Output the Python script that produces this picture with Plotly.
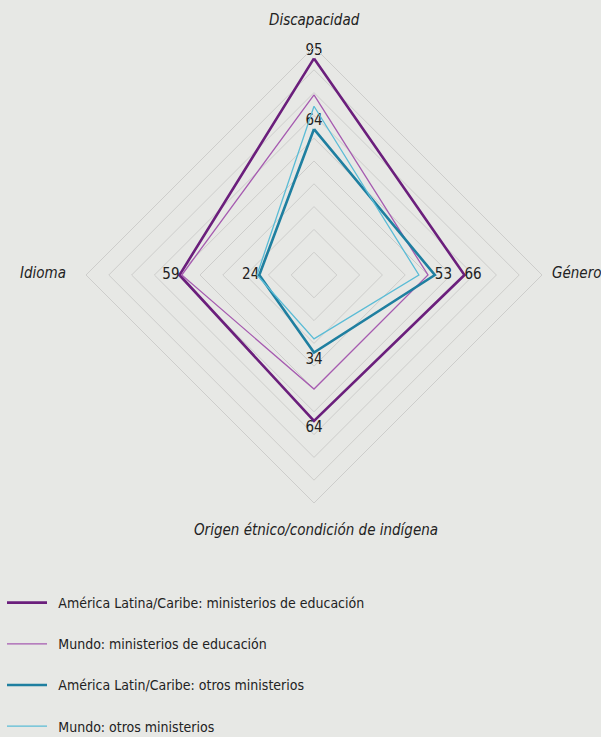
import plotly.graph_objects as go

categories = ["Discapacidad", "Género", "Origen étnico/condición de indígena", "Idioma"]

series_names = [
    "América Latina/Caribe: ministerios de educación",
    "Mundo: ministerios de educación",
    "América Latin/Caribe: otros ministerios",
    "Mundo: otros ministerios",
]
la_edu = [95, 66, 64, 59]
mundo_edu = [79, 50, 50, 58]
la_otros = [64, 53, 34, 24]
mundo_otros = [74, 46, 28, 25]

series_values = [la_edu, mundo_edu, la_otros, mundo_otros]
series_colors = ["#6b1f7c", "#a65bb0", "#1f7fa0", "#5bbcd6"]
series_widths = [2.6, 1.3, 2.6, 1.3]
show_labels = [True, False, True, False]
label_positions = ["top center", "middle right", "bottom center", "middle left"]

BG = "#e7e8e5"
GRID = "#cdcdcb"
FONT = "Liberation Sans Narrow, Arial Narrow, DejaVu Sans Condensed, sans-serif"

fig = go.Figure()
for name, vals, col, w, lab in zip(series_names, series_values, series_colors, series_widths, show_labels):
    r = vals + vals[:1]
    theta = categories + categories[:1]
    fig.add_trace(go.Scatterpolar(
        r=r, theta=theta, name="\u2002" + name,
        mode="lines+text" if lab else "lines",
        line=dict(color=col, width=w),
        text=[str(v) for v in vals] + [""] if lab else None,
        textposition=label_positions + ["top center"],
        textfont=dict(family=FONT, size=15, color="#222222"),
        legendgroup=name,
        cliponaxis=False,
    ))

fig.update_layout(
    width=601, height=737,
    paper_bgcolor=BG, plot_bgcolor=BG,
    margin=dict(l=0, r=0, t=0, b=0, autoexpand=False),
    font=dict(family=FONT, size=14, color="#222222"),
    polar=dict(
        bgcolor=BG,
        domain=dict(x=[86/601, 542/601], y=[1-503/737, 1-47/737]),
        gridshape="linear",
        radialaxis=dict(range=[0, 100], dtick=10, showticklabels=False, ticks="",
                        showline=False, gridcolor=GRID, gridwidth=1),
        angularaxis=dict(rotation=90, direction="clockwise", showticklabels=False,
                         ticks="", showline=True, linecolor=GRID, linewidth=1,
                         showgrid=False),
    ),
    legend=dict(x=2/601, y=1-587/737, xanchor="left", yanchor="top",
                orientation="v", tracegroupgap=20, itemwidth=40,
                font=dict(family=FONT, size=14, color="#222222"),
                bgcolor="rgba(0,0,0,0)"),
    showlegend=True,
)

ann_font = dict(family=FONT, size=15, color="#222222")
annotations = [
    dict(text="<i>Discapacidad</i>", x=314/601, y=1-20/737, xanchor="center", yanchor="middle"),
    dict(text="<i>Género</i>", x=550/601, y=1-273/737, xanchor="left", yanchor="middle"),
    dict(text="<i>Origen étnico/condición de indígena</i>", x=316/601, y=1-530/737, xanchor="center", yanchor="middle"),
    dict(text="<i>Idioma</i>", x=68/601, y=1-273/737, xanchor="right", yanchor="middle"),
]
for a in annotations:
    a.update(xref="paper", yref="paper", showarrow=False, font=ann_font)
fig.update_layout(annotations=annotations)

fig.write_html(
    "out.html",
    config={"displayModeBar": False},
    post_script="document.body.style.margin='0';document.body.style.overflow='hidden';",
)
